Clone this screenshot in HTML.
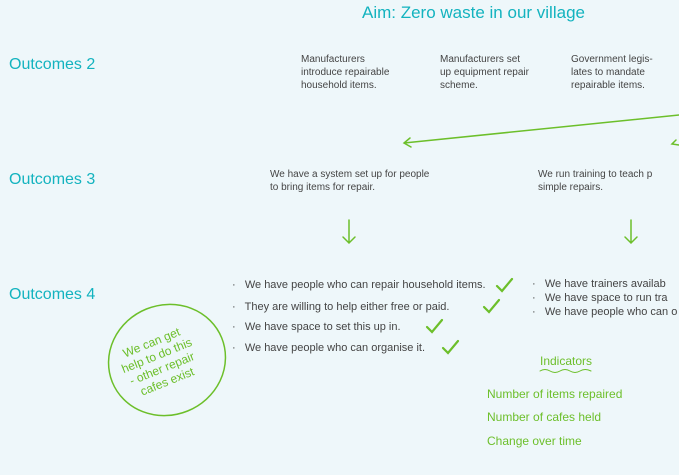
<!DOCTYPE html>
<html><head><meta charset="utf-8"><style>
body{margin:0;width:679px;height:475px;background:#eef7fa;overflow:hidden;position:relative;font-family:"Liberation Sans",sans-serif;color:#444}
.a{position:absolute;white-space:nowrap}
.t{color:#13b3bf;font-size:16px}
.s{font-size:10px;line-height:13px}
.b{font-size:11px}
.g{color:#6cbf2a}
</style></head><body>
<div class="a t" style="left:362px;top:3px;font-size:17px">Aim: Zero waste in our village</div>
<div class="a t" style="left:9px;top:56px">Outcomes 2</div>
<div class="a t" style="left:9px;top:171px">Outcomes 3</div>
<div class="a t" style="left:9px;top:286px">Outcomes 4</div>
<div class="a s" style="left:301px;top:53px">Manufacturers<br>introduce repairable<br>household items.</div>
<div class="a s" style="left:440px;top:53px">Manufacturers set<br>up equipment repair<br>scheme.</div>
<div class="a s" style="left:571px;top:53px">Government legis-<br>lates to mandate<br>repairable items.</div>
<div class="a s" style="left:270px;top:168px">We have a system set up for people<br>to bring items for repair.</div>
<div class="a s" style="left:538px;top:168px">We run training to teach p<br>simple repairs.</div>
<div class="a b" style="left:232px;top:279px">·&nbsp;&nbsp; We have people who can repair household items.</div>
<div class="a b" style="left:232px;top:301px">·&nbsp;&nbsp; They are willing to help either free or paid.</div>
<div class="a b" style="left:232px;top:321px">·&nbsp;&nbsp; We have space to set this up in.</div>
<div class="a b" style="left:232px;top:342px">·&nbsp;&nbsp; We have people who can organise it.</div>
<div class="a s" style="left:532px;top:277px;line-height:14px;font-size:11px">·&nbsp;&nbsp; We have trainers availab<br>·&nbsp;&nbsp; We have space to run tra<br>·&nbsp;&nbsp; We have people who can o</div>
<div class="a g" style="left:540px;top:354px;font-size:12px">Indicators</div>
<div class="a g" style="left:487px;top:387px;font-size:12px">Number of items repaired</div>
<div class="a g" style="left:487px;top:410px;font-size:12px">Number of cafes held</div>
<div class="a g" style="left:487px;top:434px;font-size:12px">Change over time</div>
<div class="a g" style="left:122px;top:334px;font-size:12px;line-height:14px;text-align:center;transform:rotate(-22deg);transform-origin:center">We can get<br>help to do this<br>- other repair<br>cafes exist</div>
<svg class="a" style="left:0;top:0" width="679" height="475" fill="none" stroke="#6cbf2a" stroke-width="1.5" stroke-linecap="round">
<path d="M679 115 L404 143 M410 138 L404 143 L411 147"/>
<path d="M676 140 L672 144 L679 145"/>
<path d="M349 220 V243 M343 237 L349 243 L355 237"/>
<path d="M631 220 V243 M625 237 L631 243 L637 237"/>
<path d="M540 371 q5 -3 10 0 t10 0 t10 0 t10 0 t11 0" stroke-width="1"/>
<ellipse cx="167" cy="360" rx="59" ry="55" transform="rotate(-22 167 360)"/>
<g stroke-width="2.2"><path d="M497 286 l5 5 l10 -12"/><path d="M484 307 l5 5 l10 -12"/><path d="M427 327 l5 5 l10 -12"/><path d="M443 348 l5 5 l10 -12"/></g>
</svg>
</body></html>
